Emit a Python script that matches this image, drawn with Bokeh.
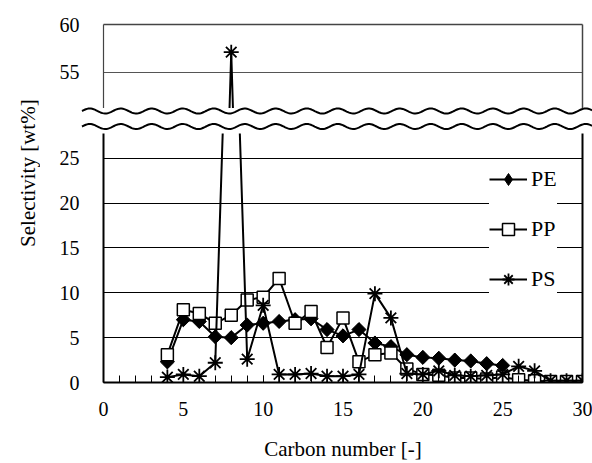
import numpy as np
from bokeh.plotting import figure
from bokeh.layouts import column, row
from bokeh.models import (Range1d, FixedTicker, LinearAxis, Legend, LegendItem, Div)
from bokeh.core.properties import value
from bokeh.embed import file_html
from bokeh.resources import INLINE

# ---------------- data ----------------
carbon_pe = list(range(4, 26))
pe = [2.3, 7.0, 6.8, 5.1, 5.0, 6.4, 6.6, 6.8, 7.0, 7.1, 5.9, 5.2, 5.9, 4.4,
      4.0, 3.1, 2.8, 2.7, 2.5, 2.4, 2.1, 1.9]

carbon_pp = list(range(4, 31))
pp = [3.1, 8.1, 7.7, 6.6, 7.5, 9.2, 9.5, 11.6, 6.6, 7.9, 3.9, 7.2, 2.3, 3.1,
      3.3, 1.5, 0.9, 0.8, 0.5, 0.5, 0.4, 0.6, 0.3, 0.2, 0.1, 0.1, 0.1]

carbon_ps = list(range(4, 31))
ps = [0.6, 0.9, 0.7, 2.2, 57.1, 2.6, 8.6, 0.9, 0.9, 1.0, 0.7, 0.7, 0.9, 9.9,
      7.2, 1.0, 0.9, 1.3, 0.8, 0.7, 0.8, 0.9, 1.8, 1.3, 0.2, 0.2, 0.2]

x_ticks = [0, 5, 10, 15, 20, 25, 30]
x_minor = list(range(0, 31))
y_ticks_low = [0, 5, 10, 15, 20, 25]
y_ticks_up = [55, 60]

x_label = "Carbon number [-]"
y_label = "Selectivity  [wt%]"

FONT = "Liberation Serif"
TICK_FS = "20px"
LABEL_FS = "21px"

xr = Range1d(0, 30)


def border_axis(color, width):
    return LinearAxis(ticker=FixedTicker(ticks=[]), major_label_text_font_size="0px",
                      major_tick_in=0, major_tick_out=0, minor_tick_in=0, minor_tick_out=0,
                      major_label_standoff=0, axis_line_color=color, axis_line_width=width)


def add_series(p):
    l1 = p.line(carbon_pe, pe, line_color="black", line_width=2)
    # diamond glyph (used by the legend), hidden under the equal-sided diamonds below
    d1 = p.scatter(carbon_pe, pe, marker="diamond", size=13, fill_color="black",
                   line_color="black")
    p.scatter(carbon_pe, pe, marker="square", angle=np.pi / 4, size=10,
              fill_color="black", line_color="black")
    l2 = p.line(carbon_pp, pp, line_color="black", line_width=2)
    s2 = p.scatter(carbon_pp, pp, marker="square", size=12, fill_color="white",
                   line_color="black", line_width=1.5)
    l3 = p.line(carbon_ps, ps, line_color="black", line_width=2)
    s3 = p.scatter(carbon_ps, ps, marker="asterisk", size=15, line_color="black",
                   line_width=1.8)
    return {"PE": [l1, d1], "PP": [l2, s2], "PS": [l3, s3]}


# ---------------- upper panel ----------------
up = figure(width=552, height=108, x_range=xr, y_range=Range1d(51.2, 60),
            min_border_left=63, min_border_right=10, min_border_top=24, min_border_bottom=0,
            x_axis_location=None, y_axis_location="left", outline_line_color=None,
            toolbar_location=None, output_backend="svg")
up.xgrid.visible = False
up.yaxis.ticker = FixedTicker(ticks=y_ticks_up)
up.yaxis.major_tick_in = 0
up.yaxis.major_tick_out = 0
up.yaxis.minor_tick_in = 0
up.yaxis.minor_tick_out = 0
up.yaxis.major_label_standoff = 24
up.yaxis.major_label_text_font = FONT
up.yaxis.major_label_text_font_size = TICK_FS
up.yaxis.major_label_text_color = "black"
up.yaxis.axis_line_color = "#444444"
up.yaxis.axis_line_width = 1.2
up.ygrid.ticker = FixedTicker(ticks=[55])
up.ygrid.grid_line_color = "#555555"
up.ygrid.grid_line_width = 1.2
up.add_layout(border_axis("#444444", 1.5), "right")
up.add_layout(border_axis("#444444", 1.5), "above")
add_series(up)

# ---------------- break marks (decoration) ----------------
wx = np.linspace(42, 552, 400)
wave = 2.5 * np.sin(2 * np.pi * (wx - 42) / 31.0)
paths = ""
for base in (3.0, 18.5):
    pts = " ".join(f"{x:.1f},{base - w:.2f}" for x, w in zip(wx, wave))
    paths += f'<polyline points="{pts}" fill="none" stroke="black" stroke-width="2"/>'
svg = (f'<svg xmlns="http://www.w3.org/2000/svg" width="552" height="25" '
       f'style="display:block;overflow:visible">{paths}</svg>')
mid = Div(text=svg, width=552, height=25,
          styles={"margin": "0", "padding": "0", "line-height": "0", "overflow": "visible"})

# ---------------- lower panel ----------------
lo = figure(width=552, height=330, x_range=xr, y_range=Range1d(0, 27.75),
            min_border_left=63, min_border_right=10, min_border_top=0, min_border_bottom=78,
            outline_line_color=None, toolbar_location=None, output_backend="svg")
lo.xgrid.visible = False
lo.xaxis.ticker = FixedTicker(ticks=x_ticks, minor_ticks=x_minor)
lo.xaxis.major_tick_in = 7
lo.xaxis.major_tick_out = 0
lo.xaxis.minor_tick_in = 7
lo.xaxis.minor_tick_out = 0
lo.xaxis.major_label_standoff = 19
lo.xaxis.axis_label = x_label
lo.xaxis.axis_label_standoff = 18
lo.yaxis.ticker = FixedTicker(ticks=y_ticks_low)
lo.yaxis.major_tick_in = 0
lo.yaxis.major_tick_out = 0
lo.yaxis.minor_tick_in = 0
lo.yaxis.minor_tick_out = 0
lo.yaxis.major_label_standoff = 24
for ax in (lo.xaxis, lo.yaxis):
    ax.major_label_text_font = FONT
    ax.major_label_text_font_size = TICK_FS
    ax.major_label_text_color = "black"
    ax.axis_label_text_font = FONT
    ax.axis_label_text_font_size = LABEL_FS
    ax.axis_label_text_font_style = "normal"
    ax.axis_label_text_color = "black"
    ax.axis_line_color = "black"
    ax.axis_line_width = 2
    ax.major_tick_line_color = "black"
    ax.minor_tick_line_color = "black"
lo.ygrid.ticker = FixedTicker(ticks=[5, 10, 15, 20, 25])
lo.ygrid.grid_line_color = "black"
lo.ygrid.grid_line_width = 1
lo.add_layout(border_axis("black", 2), "right")
rs = add_series(lo)

legend = Legend(items=[LegendItem(label=k, renderers=v) for k, v in rs.items()],
                location=(386, 88), orientation="vertical",
                background_fill_color="white", background_fill_alpha=1.0,
                border_line_color=None, padding=17, margin=0, spacing=20,
                glyph_width=38, glyph_height=30, label_height=30, label_standoff=4,
                label_text_font=FONT, label_text_font_size="22px",
                label_text_color="black", label_text_baseline="middle")
lo.add_layout(legend)

# ---------------- y label column ----------------
lab = figure(width=40, height=463, x_range=Range1d(0, 40), y_range=Range1d(0, 463),
             min_border=0, x_axis_location=None, y_axis_location=None,
             outline_line_color=None, toolbar_location=None, output_backend="svg")
lab.grid.visible = False
lab.text(x=[27], y=[293], text=[y_label], angle=np.pi / 2, text_align="center",
         text_baseline="middle", text_font=value(FONT), text_font_size="21px",
         text_color="black")

layout = row(lab, column(up, mid, lo, spacing=0), spacing=0)

open("out.html", "w").write(file_html(layout, INLINE))
